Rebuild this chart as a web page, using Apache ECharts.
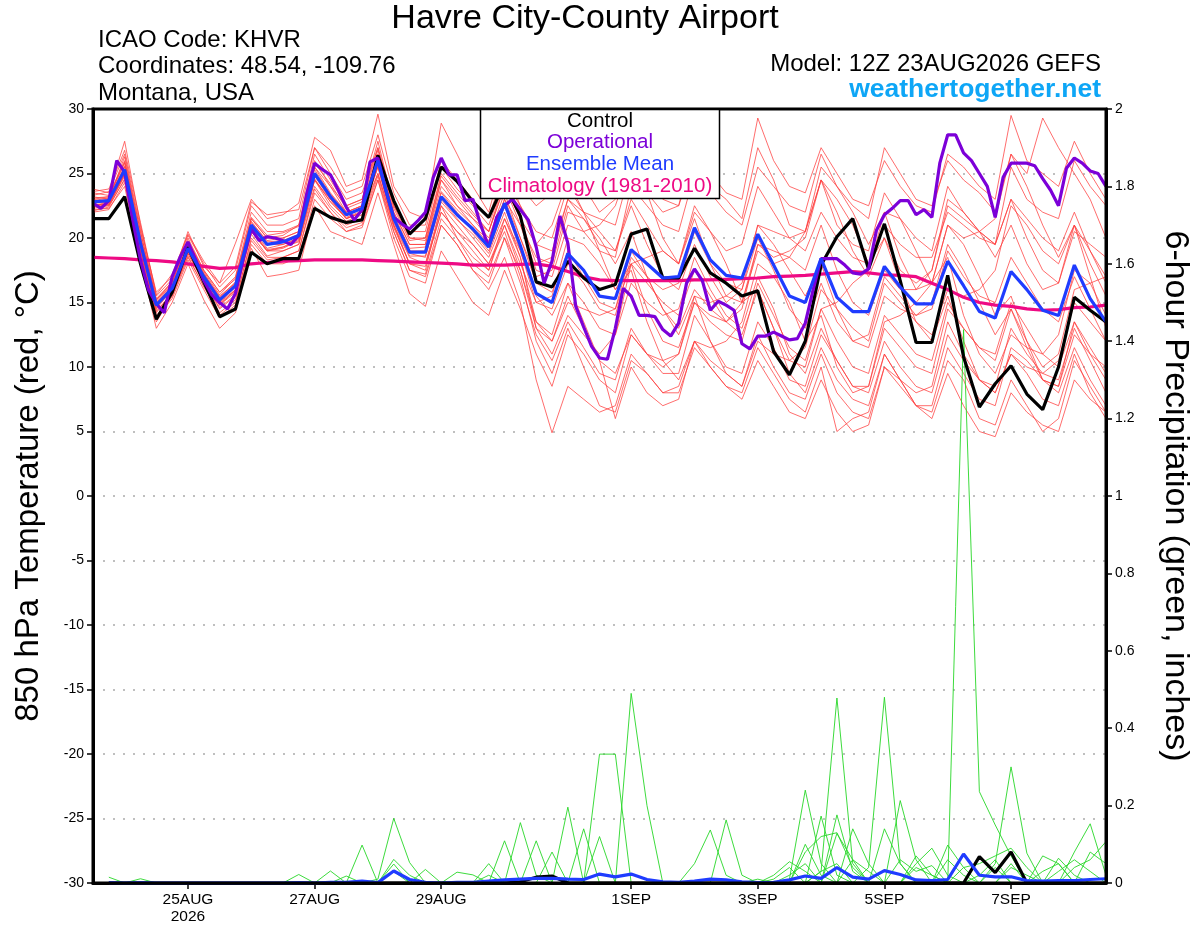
<!DOCTYPE html>
<html><head><meta charset="utf-8">
<script src="https://cdn.jsdelivr.net/npm/echarts@6/dist/echarts.min.js"></script>
<style>html,body{margin:0;padding:0;background:#fff}#c{width:1200px;height:927px}</style>
</head><body><div id="c"></div>
<script>
// ---------- DATA ----------
const stepHours = 6;          // ensemble, control, mean, climatology, precip
const operStepHours = 3;      // operational run
const tickHours = [36, 84, 132, 204, 252, 300, 348];
const tickLabels = ['25AUG\n2026', '27AUG', '29AUG', '1SEP', '3SEP', '5SEP', '7SEP'];

const control = [
 21.5,21.5,23.2,18.0,13.7,15.8,19.3,16.6,13.9,14.5,
 18.9,18.0,18.4,18.4,22.3,21.6,21.2,21.4,26.4,22.9,
 20.3,21.5,25.5,24.4,22.8,21.6,24.3,21.7,16.6,16.2,
 18.2,16.9,16.0,16.4,20.3,20.7,16.9,16.9,19.2,17.3,
 16.5,15.5,15.9,11.2,9.4,12.0,17.9,20.1,21.5,17.6,
 21.1,16.7,11.9,11.9,17.1,10.8,6.9,8.7,10.1,7.9,
 6.7,10.0,15.4,14.4,13.5];

const ensembleMean = [
 22.8,22.9,25.3,19.6,14.8,16.1,19.2,17.0,15.2,16.3,
 21.0,19.5,19.7,20.2,25.0,23.2,21.8,22.3,26.0,21.5,
 18.9,18.9,23.2,21.8,20.7,19.3,22.7,19.4,15.7,15.0,
 18.8,17.5,15.5,15.3,19.1,18.0,16.9,17.0,20.8,18.3,
 17.1,16.9,20.3,17.9,15.5,15.0,18.4,15.4,14.3,14.3,
 17.8,16.2,14.9,14.9,18.2,16.3,14.3,13.8,17.4,16.0,
 14.4,14.0,17.9,15.3,13.5];

const climatology = [
 18.5,18.45,18.4,18.3,18.25,18.15,18.0,17.8,17.65,17.7,
 18.0,18.1,18.2,18.25,18.3,18.3,18.3,18.3,18.25,18.2,
 18.15,18.1,18.05,18.0,17.9,17.9,17.9,17.95,18.0,17.8,
 17.4,17.0,16.75,16.7,16.7,16.7,16.7,16.7,16.75,16.75,
 16.8,16.85,16.9,17.0,17.05,17.1,17.2,17.3,17.4,17.3,
 17.15,17.1,17.0,16.5,16.0,15.4,15.0,14.8,14.7,14.5,
 14.4,14.45,14.6,14.65,14.8];

const operational = [
 22.7,22.3,22.9,26.0,25.1,21.5,18.3,16.0,14.9,14.2,
 17.0,18.5,19.7,18.3,16.7,15.6,15.0,14.5,15.7,18.4,
 20.7,19.8,20.1,20.0,19.8,19.5,20.2,23.4,25.8,25.3,
 24.9,23.7,22.4,21.4,22.2,25.9,26.2,23.7,21.6,21.1,
 20.7,21.3,22.0,24.7,26.2,24.9,24.9,22.9,23.0,21.0,
 19.3,21.6,22.5,23.0,22.2,21.4,19.3,16.5,18.2,21.7,
 19.6,14.7,13.1,11.6,10.7,10.6,13.0,16.1,15.5,14.0,
 14.0,13.9,12.9,12.4,13.4,16.5,17.6,16.7,14.4,15.1,
 14.8,14.4,11.8,11.4,12.4,12.4,12.7,12.4,12.1,12.2,
 13.4,16.0,18.4,18.4,18.4,17.9,17.3,17.2,17.6,20.6,
 21.8,22.3,22.9,22.9,21.8,22.2,21.6,25.8,28.0,28.0,
 26.6,26.0,25.0,24.0,21.6,24.7,25.8,25.8,25.8,25.6,
 24.6,23.7,22.5,25.4,26.2,25.8,25.2,25.0,24.0];

const member01 = [
 23.8,23.5,27.5,21.0,15.5,16.8,20.5,17.8,16.5,19.6,
 23.0,21.5,21.8,22.7,27.8,26.8,24.0,24.5,29.6,24.0,
 22.0,21.5,28.9,26.5,24.0,22.0,26.5,24.0,22.5,23.5,
 27.0,24.0,22.0,23.0,29.5,25.0,23.0,22.5,26.0,24.0,
 23.0,21.5,27.0,24.5,21.0,20.5,24.5,21.0,19.5,19.0,
 23.5,21.5,20.0,19.0,24.0,22.0,20.5,19.5,25.5,23.0,
 22.0,21.5,26.0,24.0,22.5];
const member02 = [
 23.2,23.0,26.3,20.5,15.2,16.5,20.0,17.5,15.8,17.0,
 22.0,20.5,20.5,21.0,26.5,24.5,22.5,23.0,27.5,22.5,
 20.0,20.0,25.0,23.5,22.0,20.5,24.5,22.5,20.5,20.0,
 24.0,22.0,21.5,21.0,25.5,23.5,22.0,22.5,27.5,25.0,
 23.5,23.0,29.3,26.0,24.0,23.5,27.0,25.0,23.0,22.5,
 26.0,24.0,22.5,22.0,26.5,25.5,24.0,23.0,29.5,26.0,
 25.0,24.0,27.5,25.0,23.0];
const member03 = [
 23.0,23.2,25.8,20.0,15.0,16.3,19.5,17.2,15.5,16.5,
 21.5,20.0,20.0,20.5,25.5,24.0,22.0,22.5,26.5,22.0,
 19.5,19.5,24.5,22.5,21.0,19.5,23.0,21.0,18.5,18.0,
 22.5,20.5,19.0,18.5,24.0,22.5,21.0,20.5,25.0,23.5,
 22.0,21.0,25.5,24.0,22.5,22.0,26.5,24.0,22.5,21.5,
 27.0,25.0,23.0,22.5,26.0,24.5,23.5,22.0,26.5,25.0,
 29.3,27.0,25.0,23.0,20.0];
const member04 = [
 22.3,22.5,24.5,19.0,14.0,15.5,18.5,16.3,14.0,15.0,
 20.0,18.5,18.5,19.0,23.5,22.0,20.5,21.0,24.5,20.5,
 17.5,17.0,21.0,19.5,17.5,16.0,18.5,15.0,9.0,4.9,
 8.5,7.5,6.5,7.0,11.0,9.5,8.0,8.5,12.0,10.5,
 9.5,8.5,12.5,10.0,8.0,7.5,11.0,8.0,6.5,6.0,
 10.0,8.5,7.0,6.5,10.5,9.0,6.0,5.5,9.0,7.0,
 5.0,6.0,10.5,8.5,6.5];
const member05 = [
 22.5,22.8,25.0,19.3,14.5,16.0,19.0,16.8,14.8,15.8,
 20.5,19.0,19.2,19.8,24.5,22.8,21.5,22.0,25.5,21.0,
 18.5,18.0,22.0,20.5,19.0,17.5,21.0,17.5,13.0,12.0,
 15.5,13.0,10.5,6.0,10.0,8.0,7.0,7.5,12.0,10.0,
 8.5,8.0,11.5,9.5,7.5,6.5,10.0,5.0,6.0,6.5,
 11.0,9.0,8.0,8.5,13.5,11.0,9.0,8.0,11.0,9.5,
 7.5,7.0,11.0,8.0,6.0];
const member06 = [
 22.6,22.6,25.0,19.0,13.5,15.5,18.8,16.5,14.5,15.5,
 20.5,19.0,19.0,19.5,24.5,23.0,21.5,22.0,25.0,21.0,
 18.0,17.5,22.5,20.0,18.0,17.0,20.0,16.5,12.5,10.5,
 13.5,11.5,9.5,9.0,13.0,11.0,9.5,9.5,14.0,12.0,
 10.0,9.5,13.5,11.5,9.0,8.5,12.5,10.5,8.5,8.0,
 12.0,10.0,8.5,8.0,12.5,10.5,9.0,8.5,13.0,11.0,
 9.5,9.0,13.0,10.5,8.0];
const member07 = [
 22.8,23.0,25.5,19.8,15.0,16.2,19.3,17.2,15.3,16.5,
 21.2,19.8,20.0,20.5,25.5,23.5,22.0,22.5,26.5,22.0,
 19.5,19.5,24.0,22.5,21.5,20.5,24.0,21.5,19.5,21.0,
 24.5,22.0,19.0,16.0,18.0,14.5,12.0,11.5,15.0,14.0,
 13.5,15.0,19.5,18.5,19.0,20.0,24.5,23.0,21.0,18.0,
 20.0,16.5,13.5,12.5,16.0,15.5,16.0,17.5,22.5,21.0,
 19.0,18.0,21.0,17.0,13.0];
const member08 = [
 23.0,22.7,25.0,19.5,14.8,16.0,19.0,16.8,14.8,16.0,
 20.8,19.5,19.5,20.0,25.0,23.0,21.5,22.0,25.8,21.5,
 19.0,19.0,23.5,22.0,20.5,19.0,22.5,19.0,15.0,14.5,
 18.0,16.5,14.5,14.0,18.5,17.0,16.0,16.5,20.5,18.0,
 16.5,16.0,20.0,17.5,14.5,13.0,16.5,13.5,12.0,12.5,
 17.0,15.5,14.0,14.5,19.0,17.0,15.5,15.0,18.5,16.5,
 14.5,13.5,17.0,14.5,12.0];
const member09 = [
 22.7,22.8,25.2,19.5,14.6,16.0,19.2,17.0,15.0,16.2,
 20.8,19.2,19.5,20.0,24.8,23.0,21.8,22.3,26.0,21.5,
 18.8,18.5,23.0,21.5,20.0,18.5,21.5,18.5,13.0,11.0,
 14.0,12.5,11.0,12.5,18.0,18.5,19.0,18.0,22.0,20.5,
 18.0,15.0,16.0,13.0,10.5,10.0,14.5,15.0,16.5,17.5,
 22.0,21.5,19.0,16.5,18.5,14.0,11.0,9.5,12.5,11.5,
 11.0,12.5,17.5,16.5,14.0];
const member10 = [
 22.2,22.3,24.0,18.2,13.0,15.0,18.0,15.2,13.0,14.2,
 19.2,17.0,17.2,17.5,22.5,20.5,20.0,19.5,23.5,19.5,
 15.7,14.7,19.0,17.0,15.0,14.0,17.5,14.5,11.0,8.5,
 12.5,11.0,9.0,8.0,12.5,11.0,10.5,11.0,15.0,13.5,
 12.5,12.0,16.5,14.0,11.5,10.5,14.5,12.0,10.0,9.5,
 14.0,12.5,11.0,10.5,15.0,13.0,11.5,11.0,15.0,13.0,
 11.0,10.0,13.5,11.0,9.0];
const member11 = [
 23.5,23.3,26.0,20.5,15.3,16.6,19.8,17.5,15.8,16.8,
 21.5,20.0,20.2,21.0,26.0,24.0,22.5,23.0,27.0,22.8,
 20.0,19.8,24.5,23.0,21.5,20.0,23.5,20.0,17.0,17.5,
 22.0,21.5,20.0,18.0,20.5,17.0,14.5,13.0,16.0,14.5,
 13.5,14.5,19.5,19.0,18.5,17.5,21.0,17.5,15.0,14.0,
 17.5,16.0,16.0,17.5,23.0,22.0,20.5,18.5,21.0,18.0,
 16.0,16.5,21.0,19.0,17.0];
const member12 = [
 22.0,22.2,24.3,18.5,13.8,15.3,18.3,16.0,13.8,14.8,
 19.5,18.0,18.0,18.5,23.0,21.5,20.5,20.8,24.5,20.0,
 17.0,16.5,21.0,19.5,17.5,16.5,20.0,17.5,13.5,12.5,
 16.5,15.0,13.0,12.5,16.5,15.0,14.0,14.5,18.5,16.0,
 14.0,13.0,17.0,14.5,11.0,9.5,13.0,10.5,8.5,8.5,
 13.0,11.5,10.0,9.5,14.5,13.0,11.5,10.5,14.5,12.0,
 9.0,8.5,13.5,11.5,9.5];
const member13 = [
 23.3,23.6,26.5,20.8,15.8,17.0,20.2,18.0,16.2,17.5,
 22.5,21.0,21.0,21.5,27.0,25.5,23.5,24.0,28.0,23.5,
 21.0,21.0,26.0,24.5,23.0,21.5,25.5,22.5,19.5,19.0,
 23.0,21.5,19.5,19.0,23.0,21.0,19.0,18.0,22.5,20.5,
 19.0,19.5,24.0,22.0,20.0,19.0,22.0,20.0,18.5,18.0,
 21.0,19.5,18.5,18.5,22.0,21.0,20.0,19.5,23.0,21.5,
 20.0,19.0,22.0,19.0,16.5];
const member14 = [
 22.4,22.6,24.8,19.2,14.2,15.8,18.8,16.6,14.6,15.6,
 20.3,18.6,19.0,19.5,24.0,22.3,21.0,21.5,25.0,20.8,
 18.0,17.8,22.0,20.5,19.5,18.0,21.0,18.0,15.0,15.5,
 20.0,19.5,18.0,16.0,17.5,13.5,10.5,9.0,12.0,11.5,
 12.0,13.5,18.0,17.0,15.0,12.0,14.0,10.0,8.0,8.5,
 13.5,14.0,15.0,16.5,21.0,19.5,17.0,14.0,15.5,12.0,
 10.0,11.0,16.0,16.5,17.0];
const member15 = [
 22.9,23.1,25.6,19.9,15.1,16.4,19.6,17.3,15.4,16.6,
 21.3,19.7,19.8,20.3,25.3,23.4,22.0,22.5,26.3,21.8,
 19.2,19.3,23.6,22.2,21.0,19.8,23.0,20.0,16.5,15.8,
 19.0,17.0,15.0,14.5,18.0,16.5,15.0,14.0,17.5,15.5,
 13.5,12.5,16.0,13.0,9.5,8.0,11.5,9.0,7.5,7.0,
 11.0,9.0,7.0,6.0,9.5,7.0,5.0,4.6,8.0,6.5,
 5.5,5.0,9.0,7.5,6.5];
const member16 = [
 23.1,23.2,25.9,20.2,15.2,16.6,19.7,17.4,15.6,16.9,
 21.6,20.2,20.4,20.9,25.8,24.2,22.3,22.8,26.8,22.3,
 19.8,20.0,24.8,23.2,21.8,20.5,24.0,21.0,17.5,17.0,
 21.0,20.5,21.0,22.5,26.0,23.5,20.0,18.0,21.5,18.0,
 15.5,15.0,19.0,18.0,18.5,20.5,25.5,24.0,22.0,19.5,
 22.0,18.5,16.0,16.5,21.0,20.0,20.5,21.5,26.5,24.0,
 21.0,18.5,21.0,18.0,15.5];
const member17 = [
 22.1,22.4,24.6,18.8,14.3,15.7,18.6,16.2,14.2,15.2,
 19.8,18.3,18.5,19.0,23.8,22.0,20.8,21.2,24.8,20.5,
 17.5,17.2,21.5,20.0,18.5,17.5,21.5,19.0,15.5,14.0,
 16.5,13.5,10.5,9.5,12.5,11.0,10.0,11.0,15.5,15.0,
 15.5,16.5,21.0,19.5,17.5,15.5,18.0,14.5,12.0,11.5,
 15.5,14.5,14.0,15.0,19.5,17.5,15.0,12.5,14.5,11.5,
 9.0,8.5,12.5,11.0,10.0];
const member18 = [
 22.5,22.7,25.0,19.4,14.7,16.1,19.0,16.9,15.0,16.0,
 20.5,19.0,19.3,19.7,24.5,22.5,21.3,21.8,25.5,21.0,
 18.0,18.0,22.5,21.0,19.5,18.0,20.5,17.0,12.0,9.5,
 13.0,10.0,7.0,6.5,10.5,9.5,8.0,8.0,11.5,10.0,
 8.5,7.5,10.5,8.5,6.5,6.0,9.0,6.5,5.0,5.5,
 10.0,9.0,7.0,7.0,11.5,9.5,7.5,7.0,11.5,10.5,
 9.0,8.0,11.5,9.0,7.0];
const member19 = [
 23.6,23.8,26.8,21.2,15.6,17.2,20.3,18.2,16.5,17.8,
 22.8,21.8,22.0,22.2,27.0,25.0,23.0,23.5,27.0,22.5,
 20.5,20.5,25.5,23.8,22.5,21.0,24.5,21.5,18.0,18.5,
 23.0,22.0,20.5,19.0,22.5,19.5,17.0,16.0,19.5,17.0,
 15.0,16.0,21.0,20.5,20.0,20.5,24.5,22.0,19.0,17.0,
 20.0,17.5,16.5,17.5,22.5,21.5,20.5,19.5,23.0,20.0,
 17.5,16.5,20.5,19.5,18.5];
const member20 = [
 22.6,22.5,24.9,19.1,14.4,15.6,18.9,16.7,14.9,15.9,
 20.6,19.1,19.3,19.9,24.6,22.8,21.6,22.1,25.6,21.2,
 18.6,18.6,22.8,21.4,20.3,18.8,22.0,18.5,13.5,12.0,
 15.0,14.5,14.0,14.5,19.0,17.0,14.5,12.5,15.5,12.0,
 9.5,8.5,12.0,11.0,10.5,11.5,16.0,14.5,13.0,12.0,
 16.5,15.0,13.5,12.0,15.5,12.0,9.0,8.0,11.0,10.0,
 9.5,10.5,15.0,13.5,12.0];

// 6-hour precipitation (inches), valid at hours 6..384
const precipControl = [
 0,0,0,0,0,0,0,0, 0,0,0,0,0,0,0,0, 0,0,0,0,0,0,0,0, 0,0,.003,.015,.018,0,0,0,
 0,0,0,0,0,0,0,0, 0,0,0,0,0,0,0,0, 0,0,0,0,0,0,0,.068, .027,.08,0,0,0,0,0,0];
const precipMean = [
 .001,0,.001,0,0,0,0,0, 0,0,0,0,.001,0,.002,.002, .005,.001,.031,.009,.002,0,.002,.002, .005,.008,.01,.012,.012,.01,.009,.023,
 .016,.023,.009,.003,.002,.005,.01,.008, .003,.001,.002,.008,.018,.012,.04,.015, .01,.032,.022,.008,.006,.009,.075,.02, .016,.016,.006,.005,.006,.006,.009,.011];
const precip01 = [
 .015,0,.011,0,0,0,0,0, 0,0,0,0,0,0,0,0, 0,0,0,0,0,0,0,0, 0,0,0,0,0,0,0,0,
 0,.49,.20,0,0,0,0,0, 0,0,0,0,0,.03,.05,0, 0,0,0,.04,.02,0,0,0, 0,0,0,0,0,0,0,0];
const precip02 = [
 0,0,0,0,0,0,0,0, 0,0,0,0,.022,0,0,0, 0,0,0,0,0,0,0,0, 0,0,0,0,0,0,0,0,
 0,0,0,0,0,.05,.137,.02, 0,0,0,0,0,0,0,.06, .03,0,0,0,0,0,0,0, 0,0,0,0,0,.04,.06,.107];
const precip03 = [
 0,0,0,0,0,0,0,0, 0,0,0,0,0,0,.031,0, 0,0,0,0,0,0,0,0, 0,0,0,0,0,0,0,0,
 0,0,0,0,0,0,0,.163, .02,0,0,0,.08,.12,.13,.04, 0,0,0,0,0,0,0,0, 0,0,0,.03,.05,0,0,0];
const precip04 = [
 0,0,0,0,0,0,0,0, 0,0,0,0,0,0,0,.018, 0,0,0,0,0,0,0,0, 0,0,0,0,0,0,0,0,
 0,0,0,0,0,0,0,0, 0,0,.02,.055,.03,0,0,0, 0,0,.06,.03,.045,0,0,0, 0,0,0,0,0,0,0,0];
const precip05 = [
 0,0,0,0,0,0,0,0, 0,0,0,0,0,0,0,0, .098,0,0,0,0,0,0,0, 0,0,0,0,0,0,0,0,
 0,0,0,0,0,0,0,0, 0,0,0,.01,.24,.05,0,0, 0,0,0,0,0,0,.04,.05, .07,.09,.04,0,0,0,0,0];
const precip06 = [
 0,0,0,0,0,0,0,0, 0,0,0,0,0,0,0,0, 0,.01,.167,.053,0,0,0,0, 0,0,0,0,0,0,0,0,
 0,0,0,0,0,0,0,0, 0,0,0,0,.10,.02,0,0, 0,0,0,0,0,.06,.02,0, 0,0,0,0,0,0,0,0];
const precip07 = [
 0,0,0,0,0,0,0,0, 0,0,0,0,0,0,0,0, 0,0,.061,.02,0,0,0,0, 0,0,0,0,0,0,0,0,
 0,0,0,0,0,0,0,0, 0,0,0,0,0,.173,.02,0, 0,0,0,0,0,0,0,0, .04,0,0,0,0,0,0,0];
const precip08 = [
 0,0,0,0,0,0,0,0, 0,0,0,0,0,0,0,0, 0,0,.049,0,0,0,0,0, 0,0,0,0,0,0,0,0,
 0,0,0,0,0,0,0,0, 0,0,0,0,0,.03,.478,.05, 0,0,0,0,0,0,0,0, 0,0,0,.07,.05,0,0,0];
const precip09 = [
 0,0,0,0,0,0,0,0, 0,0,0,0,0,0,0,0, 0,0,.03,0,0,0,0,0, 0,0,0,0,0,0,0,0,
 0,0,0,0,0,0,0,0, 0,0,0,0,0,0,.176,.03, 0,0,0,.05,.09,.02,0,0, 0,0,0,0,0,0,0,0];
const precip10 = [
 0,0,0,0,0,0,0,0, 0,0,0,0,0,0,0,0, 0,0,0,0,.035,0,0,0, 0,0,0,0,0,0,0,0,
 0,0,0,0,0,0,0,0, 0,0,0,0,0,0,.128,.06, 0,0,0,0,0,0,0,0, 0,.05,0,0,.03,.06,.03,0];
const precip11 = [
 0,0,0,0,0,0,0,0, 0,0,0,0,0,0,0,0, 0,0,0,0,0,0,.028,.021, 0,0,0,0,0,0,0,0,
 0,0,0,0,0,0,0,0, 0,0,0,0,0,0,0,.14, .05,0,0,0,0,0,0,.02, .06,0,0,0,0,0,0,0];
const precip12 = [
 0,0,0,0,0,0,0,0, 0,0,0,0,0,0,0,0, 0,0,0,0,0,0,0,0, .05,0,0,0,0,0,0,0,
 0,0,0,0,0,0,0,0, 0,.01,0,0,0,0,0,0, .04,.48,.05,0,0,0,0,0, 0,0,0,0,0,0,0,0];
const precip13 = [
 0,0,0,0,0,0,0,0, 0,0,0,0,0,0,0,0, 0,0,0,0,0,0,0,0, 0,.109,0,0,0,0,0,0,
 0,0,0,0,0,0,0,0, 0,0,0,0,0,0,0,0, 0,.14,.05,0,0,0,0,0, 0,0,0,0,0,0,.08,.05];
const precip14 = [
 0,0,0,0,0,0,0,0, 0,0,0,0,0,0,0,0, 0,0,0,0,0,0,0,0, 0,0,.156,.02,0,0,0,0,
 0,0,0,0,0,0,0,0, 0,0,0,0,0,0,0,0, 0,0,.213,.06,0,0,0,0, 0,0,0,0,0,0,0,0];
const precip15 = [
 0,0,0,0,0,0,0,0, 0,0,0,0,0,0,0,0, 0,0,0,0,0,0,0,0, 0,0,0,.109,0,0,0,0,
 0,0,0,0,0,0,0,0, 0,0,.01,.04,0,0,0,0, 0,0,0,.07,.02,0,0,0, 0,0,0,0,0,0,0,0];
const precip16 = [
 0,0,0,0,0,0,0,0, 0,0,0,0,0,0,0,0, 0,0,0,0,0,0,0,0, 0,0,0,0,.08,0,0,0,
 0,0,0,0,0,0,0,0, 0,0,0,0,0,0,0,0, 0,0,0,0,0,.098,.04,0, 0,.04,.02,0,0,0,0,0];
const precip17 = [
 0,0,0,0,0,0,0,0, 0,0,0,0,0,0,0,0, 0,0,0,0,0,0,0,0, 0,0,0,0,0,.196,0,0,
 0,0,0,0,0,0,0,0, 0,0,0,0,0,0,0,0, 0,0,0,0,0,0,1.43,.236, .15,.07,0,0,0,0,0,0];
const precip18 = [
 0,0,0,0,0,0,0,0, 0,0,0,0,0,0,0,0, 0,0,0,0,0,0,0,0, 0,0,0,0,0,0,.14,0,
 0,0,0,0,0,0,0,0, 0,0,0,0,0,0,0,0, 0,0,0,0,0,0,0,0, .05,.30,.077,0,0,0,0,0];
const precip19 = [
 0,0,0,0,0,0,0,0, 0,0,0,0,0,0,0,0, 0,0,0,0,0,0,0,0, .02,0,0,0,0,0,0,.12,
 0,0,0,0,0,0,0,0, 0,0,0,.02,.05,0,0,0, 0,0,0,0,0,0,0,0, 0,0,0,0,.064,.02,0,0];
const precip20 = [
 0,0,0,0,0,0,0,0, 0,0,0,0,0,0,0,0, 0,0,0,0,0,0,0,0, 0,0,0,0,0,0,0,.333,
 .333,0,0,0,0,0,0,0, 0,0,0,0,0,0,0,0, 0,0,0,0,0,0,0,0, 0,0,0,0,0,.08,.153,.02];

const tempMembers = [member01,member02,member03,member04,member05,member06,member07,member08,member09,member10,
  member11,member12,member13,member14,member15,member16,member17,member18,member19,member20];
const precipMembers = [precip01,precip02,precip03,precip04,precip05,precip06,precip07,precip08,precip09,precip10,
  precip11,precip12,precip13,precip14,precip15,precip16,precip17,precip18,precip19,precip20];

// ---------- CHART ----------
const FONT = '"Liberation Sans", Arial, Helvetica, sans-serif';
const toSteps = (arr, hrs, offset) => arr.map((v, i) => [(i + offset) * hrs, v]);
const line = (data, color, width, yAxisIndex, z) => ({
  type: 'line', data, yAxisIndex, symbol: 'none', showSymbol: false, silent: true,
  animation: false, z, lineStyle: { color, width }, emphasis: { disabled: true }
});

const series = [];
tempMembers.forEach(m => series.push(line(toSteps(m, stepHours, 0), 'rgba(255,60,60,0.75)', 1, 0, 2)));
precipMembers.forEach(m => series.push(line(toSteps(m, stepHours, 1), 'rgba(40,215,40,0.9)', 1, 1, 3)));
series.push(line(toSteps(climatology, stepHours, 0), '#ee0a84', 3.2, 0, 4));
series.push(line(toSteps(control, stepHours, 0), '#000000', 3.2, 0, 5));
series.push(line(toSteps(operational, operStepHours, 0), '#7c00d8', 3.2, 0, 6));
series.push(line(toSteps(ensembleMean, stepHours, 0), '#1f3cff', 3.2, 0, 7));
series.push(line(toSteps(precipControl, stepHours, 1), '#000000', 3.2, 1, 5));
series.push(line(toSteps(precipMean, stepHours, 1), '#1f3cff', 3.2, 1, 7));

const txt = (text, x, y, size, color, align, weight) => ({
  type: 'text', x, y, z: 101, silent: true,
  style: { text, fill: color, font: (weight || 'normal') + ' ' + size + 'px ' + FONT,
           textAlign: align, textVerticalAlign: 'middle' }
});

const graphic = [
  txt('Havre City-County Airport', 585, 19, 34, '#000', 'center'),
  txt('ICAO Code: KHVR', 98, 40, 24, '#000', 'left'),
  txt('Coordinates: 48.54, -109.76', 98, 66, 24, '#000', 'left'),
  txt('Montana, USA', 98, 93, 24, '#000', 'left'),
  txt('Model: 12Z 23AUG2026 GEFS', 1101, 64, 24, '#000', 'right'),
  txt('weathertogether.net', 1101, 90, 26.5, '#0ea6f6', 'right', 'bold'),
  // solid plot frame drawn above the dotted grid lines
  { type: 'rect', z: 99, silent: true, shape: { x: 93, y: 109, width: 1013, height: 774 },
    style: { fill: 'none', stroke: '#000', lineWidth: 3 } },
  { type: 'rect', z: 100, silent: true, shape: { x: 480.5, y: 109.5, width: 239, height: 89 },
    style: { fill: '#fff', stroke: '#000', lineWidth: 1.5 } },
  txt('Control', 600, 121, 20.5, '#000', 'center'),
  txt('Operational', 600, 142, 20.5, '#7c00d8', 'center'),
  txt('Ensemble Mean', 600, 164, 20.5, '#1f3cff', 'center'),
  txt('Climatology (1981-2010)', 600, 186, 20.5, '#ee0a84', 'center')
];

const chart = echarts.init(document.getElementById('c'), null, { renderer: 'canvas' });
chart.setOption({
  animation: false,
  backgroundColor: '#fff',
  textStyle: { fontFamily: FONT },
  grid: { left: 93, right: 94, top: 109, bottom: 44, show: false, containLabel: false, outerBoundsMode: 'none' },
  xAxis: {
    type: 'value', min: 0, max: 384,
    axisLine: { show: true, onZero: false, lineStyle: { color: '#000', width: 3 } },
    axisTick: { show: true, customValues: tickHours, length: 6, lineStyle: { color: '#000', width: 1.5 } },
    axisLabel: { customValues: tickHours, color: '#000', fontSize: 15.5, margin: 8, lineHeight: 17,
                 fontFamily: FONT, formatter: v => tickLabels[tickHours.indexOf(v)] || '' },
    splitLine: { show: false }
  },
  yAxis: [
    { type: 'value', min: -30, max: 30, interval: 5, position: 'left',
      axisLine: { show: true, onZero: false, lineStyle: { color: '#000', width: 3 } },
      axisTick: { show: true, length: 6, lineStyle: { color: '#000', width: 1.5 } },
      axisLabel: { color: '#000', fontSize: 14, margin: 9, fontFamily: FONT },
      splitLine: { show: true, lineStyle: { color: '#aaaaaa', width: 1.5, type: [2, 8] } },
      name: '850 hPa Temperature (red, \u00B0C)', nameLocation: 'middle', nameRotate: 90, nameGap: 48,
      nameTextStyle: { fontSize: 33, color: '#000', fontFamily: FONT } },
    { type: 'value', min: 0, max: 2, interval: 0.2, position: 'right',
      axisLine: { show: true, onZero: false, lineStyle: { color: '#000', width: 3 } },
      axisTick: { show: true, length: 6, lineStyle: { color: '#000', width: 1.5 } },
      axisLabel: { color: '#000', fontSize: 14, margin: 9, fontFamily: FONT },
      splitLine: { show: false },
      name: '6-hour Precipitation (green, inches)', nameLocation: 'middle', nameRotate: -90, nameGap: 52,
      nameTextStyle: { fontSize: 34, color: '#000', fontFamily: FONT } }
  ],
  graphic,
  series
});
</script>
</body></html>
